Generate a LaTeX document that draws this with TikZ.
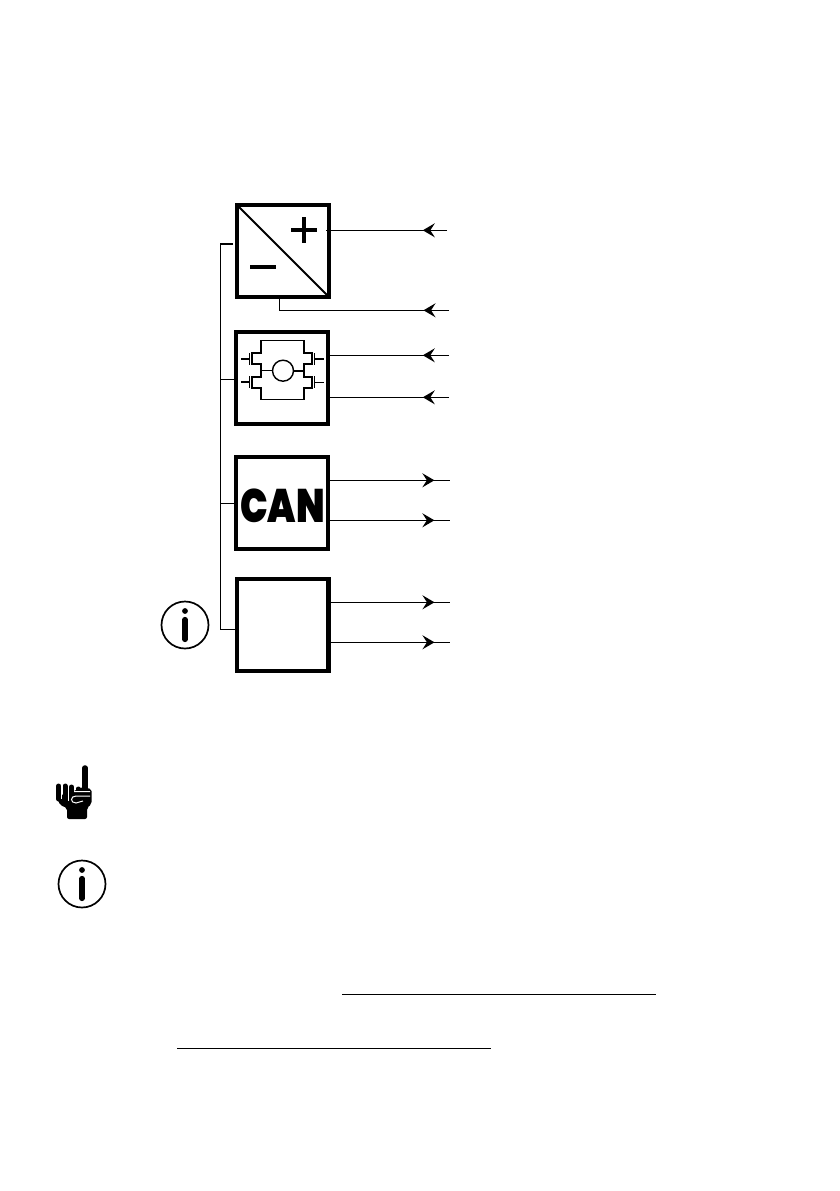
\documentclass[tikz,border=0pt]{standalone}
\usepackage{fontspec}
\usetikzlibrary{calc, arrows.meta, decorations.markings, positioning}
\newfontfamily\canfont{Poppins Black}
\tikzset{
    boxnode/.style = {draw, rectangle, line width=4.4pt, minimum size=91.6pt, inner sep=0pt},
    thinline/.style = {line width=1.3pt},
    iconline/.style = {line width=1.7pt},
    motorline/.style = {line width=1.2pt},
    heavyline/.style = {line width=2.1pt},
    tipin/.style = {thinline, decoration={markings, mark=at position #1 with {\arrow{Stealth[length=12pt,width=14pt,inset=4.5pt]}}}, postaction={decorate}},
    infostem/.style = {line width=5.2pt, line cap=round},
    fingerline/.style = {line width=5pt, line cap=round},
    creaseline/.style = {white, line width=1pt}
}
\begin{document}
\begin{tikzpicture}[x=1pt, y=-1pt]
\useasboundingbox (0,0) rectangle (839,1191);
\fill[white] (0,0) rectangle (839,1191);

% blocks
\node[boxnode, name=power] at (283,251) {};
\node[boxnode, name=motor] at (282,378) {};
\node[boxnode, name=bus] at (282,503) {};
\node[boxnode, name=blank] at (282.5,625) {};

% power block
\draw[line width=1.8pt, shorten <=1pt, shorten >=1pt] (power.north west) -- (power.south east);
\draw[line width=4.6pt] (291,230) -- (317,230) (304,217) -- (304,243);
\draw[line width=4.6pt] (250,267) -- (276,267);

% motor bridge
\coordinate (railTL) at (260.7,340.7);
\coordinate (railBR) at (304.3,399.3);
\draw[motorline] (railTL) -- (railTL -| railBR) (railBR) -- (railBR -| railTL);
\draw[heavyline] (260.7,340) -- (260.7,353.3) -- (252.3,353.3) -- (252.3,364.3) -- (260.7,364.3) -- (260.7,376.7) -- (252.3,376.7) -- (252.3,388.3) -- (260.7,388.3) -- (260.7,400);
\draw[heavyline] (304.3,340) -- (304.3,353.3) -- (312.3,353.3) -- (312.3,364.3) -- (304.3,364.3) -- (304.3,376.7) -- (312.3,376.7) -- (312.3,388.3) -- (304.3,388.3) -- (304.3,400);
\draw[motorline] (249.8,353) -- (249.8,365) (249.8,376) -- (249.8,388);
\draw[motorline] (314.8,353) -- (314.8,365) (314.8,376) -- (314.8,388);
\draw[heavyline] (241,359) -- (249.8,359) (241,382.3) -- (249.8,382.3);
\draw[heavyline] (314.8,359) -- (324,359);
\draw[motorline] (314.8,382.3) -- (324,382.3);
\node[circle, draw, line width=1.4pt, minimum size=21pt, inner sep=0pt, name=rotor] at (283,370.7) {};
\draw[motorline] (260.7,370.7) -- (rotor.west);
\draw[heavyline] (rotor.east) -- (304.3,370.7);

% bus logo
\node[name=canlabel, inner sep=0pt] at (282.5,505.5) {\scalebox{.78}[1]{\canfont\fontsize{47pt}{47pt}\selectfont CAN}};

% supply tree
\coordinate (treetop) at (220.7,244);
\coordinate (treeend) at (220.7,629.3);
\draw[thinline] (233,244) -- (treetop) -- (treeend) -- (blank.west |- treeend);
\draw[thinline] (220.7,379.3) -- (motor.west |- 0,379.3);
\draw[thinline] (220.7,503.3) -- (bus.west |- 0,503.3);

% inputs
\coordinate (inA) at (447,230.3);
\coordinate (inB) at (449,310.3);
\coordinate (inC) at (449,355.3);
\coordinate (inD) at (449,397.3);
\draw[tipin=0.2] (inA) -- (326,230.3);
\draw[tipin=0.14] (inB) -- (279.3,310.3) -- (279.3,298);
\draw[tipin=0.22] (inC) -- (inC -| motor.east);
\draw[tipin=0.22] (inD) -- (inD -| motor.east);

% outputs
\coordinate (outA) at (450,480.3);
\coordinate (outB) at (450,520.3);
\coordinate (outC) at (450,602.3);
\coordinate (outD) at (450,642.3);
\draw[tipin=0.87] (outA -| bus.east) -- (outA);
\draw[tipin=0.87] (outB -| bus.east) -- (outB);
\draw[tipin=0.87] (outC -| blank.east) -- (outC);
\draw[tipin=0.87] (outD -| blank.east) -- (outD);

% info icons
\node[circle, draw, iconline, minimum size=47pt, name=infoA] at (185,625) {};
\fill ($(infoA.center)+(0,-14)$) circle (2.9);
\draw[infostem] ($(infoA.center)+(0,-5.5)$) -- ($(infoA.center)+(0,14.5)$);
\node[circle, draw, iconline, minimum size=47pt, name=infoB] at (82,884) {};
\fill ($(infoB.center)+(0,-14)$) circle (2.9);
\draw[infostem] ($(infoB.center)+(0,-5.5)$) -- ($(infoB.center)+(0,14.5)$);

% hand
\fill[rounded corners=2pt] (56.5,796) -- (60,805) -- (67,808) -- (67,819) -- (87,819) -- (87,808) -- (91.5,804) -- (91.5,789) -- (82,787) -- (70,793) -- cycle;
\draw[fingerline, line width=5.6pt] (85,768) -- (85,792);
\draw[fingerline] (58.7,786) -- (58.7,799);
\draw[fingerline] (65,786) -- (65,801);
\draw[fingerline] (71.5,787) -- (71.5,800);
\draw[fingerline] (78,789) -- (78,796);
\draw[creaseline] (74,791.5) -- (90,791.5) (90,796) -- (76,796) .. controls (70,796) and (70,803) .. (76,803) -- (83,801);
\draw[creaseline] (61.8,787) -- (61.8,799) (68.3,789) -- (68.3,801);

% rules
\coordinate (ruleAl) at (342,994.3);
\coordinate (ruleAr) at (656,994.3);
\coordinate (ruleBl) at (177.3,1048.3);
\coordinate (ruleBr) at (490.7,1048.3);
\draw[thinline] (ruleAl) -- (ruleAr);
\draw[thinline] (ruleBl) -- (ruleBr);
\end{tikzpicture}
\end{document}
